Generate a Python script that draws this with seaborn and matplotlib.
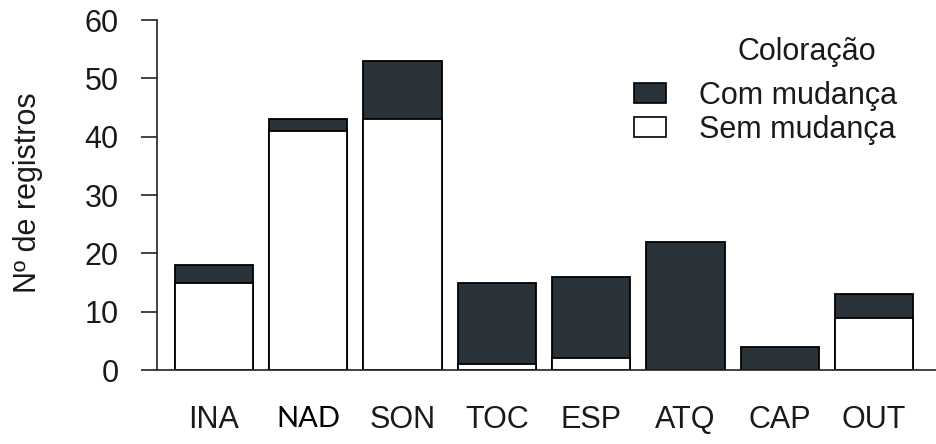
import matplotlib
matplotlib.use("Agg")
import matplotlib.pyplot as plt
import matplotlib.transforms as mtransforms
import seaborn as sns
import pandas as pd
from matplotlib.patches import Patch

# Behaviour categories and counts of records
categories = ["INA", "NAD", "SON", "TOC", "ESP", "ATQ", "CAP", "OUT"]
sem_mudanca = [15, 41, 43, 1, 2, 0, 0, 9]
com_mudanca = [3, 2, 10, 14, 14, 22, 4, 4]
totals = [a + b for a, b in zip(sem_mudanca, com_mudanca)]

dark = "#283238"
text_col = "#1a1a1a"
fs = 22

sns.set_theme(style="white")
plt.rcParams["font.family"] = ["Liberation Sans", "DejaVu Sans"]

fig = plt.figure(figsize=(9.36, 4.44), dpi=100)
ax = fig.add_axes([157 / 936, 1 - 370 / 444, 1 - 157 / 936, (370 - 20) / 444])

df = pd.DataFrame({"cat": categories, "total": totals, "sem": sem_mudanca})

# Full stack (colour change on top), then the unchanged part drawn over it
sns.barplot(data=df, x="cat", y="total", color=dark, saturation=1,
            width=0.83, edgecolor="black", linewidth=1.3, ax=ax)
sns.barplot(data=df, x="cat", y="sem", color="white", saturation=1,
            width=0.83, edgecolor="black", linewidth=1.3, ax=ax)

ax.set_xlim(-0.604, 7.656)
ax.set_ylim(0, 60)
ax.set_yticks(range(0, 61, 10))
ax.set_xlabel("")
ax.set_ylabel("")
fig.text(28 / 936, 1 - 193 / 444, "Nº de registros", fontsize=fs, color=text_col,
         rotation=90, ha="center", va="center")

for side in ["top", "right"]:
    ax.spines[side].set_visible(False)
for side in ["left", "bottom"]:
    ax.spines[side].set_color("#222222")
    ax.spines[side].set_linewidth(1.2)

ax.tick_params(axis="y", length=11.5, width=1.2, color="#222222",
               labelsize=fs, labelcolor=text_col, pad=16, left=True)
ax.tick_params(axis="x", length=0, labelsize=fs, labelcolor=text_col, pad=25)

for lab in ax.get_xticklabels():
    if lab.get_text() == "NAD":
        lab.set_fontfamily(["Lato", "DejaVu Sans"])
        lab.set_fontsize(21)
        lab.set_color("black")
        shift = mtransforms.ScaledTranslation(0, -1.2 / 72, fig.dpi_scale_trans)
        lab.set_transform(lab.get_transform() + shift)

handles = [Patch(facecolor=dark, edgecolor="black", linewidth=1.2, label="Com mudança"),
           Patch(facecolor="white", edgecolor="black", linewidth=1.2, label="Sem mudança")]
leg = ax.legend(handles=handles, loc="upper left", bbox_to_anchor=(0.612, 0.826),
                frameon=False, fontsize=fs, handlelength=1.05, handleheight=0.62,
                handletextpad=1.1, labelspacing=0.12, borderaxespad=0, borderpad=0)
for t in leg.get_texts():
    t.set_color(text_col)
fig.text(807 / 936, 1 - 60 / 444, "Coloração", fontsize=fs, color=text_col,
         ha="center", va="baseline")

fig.savefig("out.png", dpi=100)
